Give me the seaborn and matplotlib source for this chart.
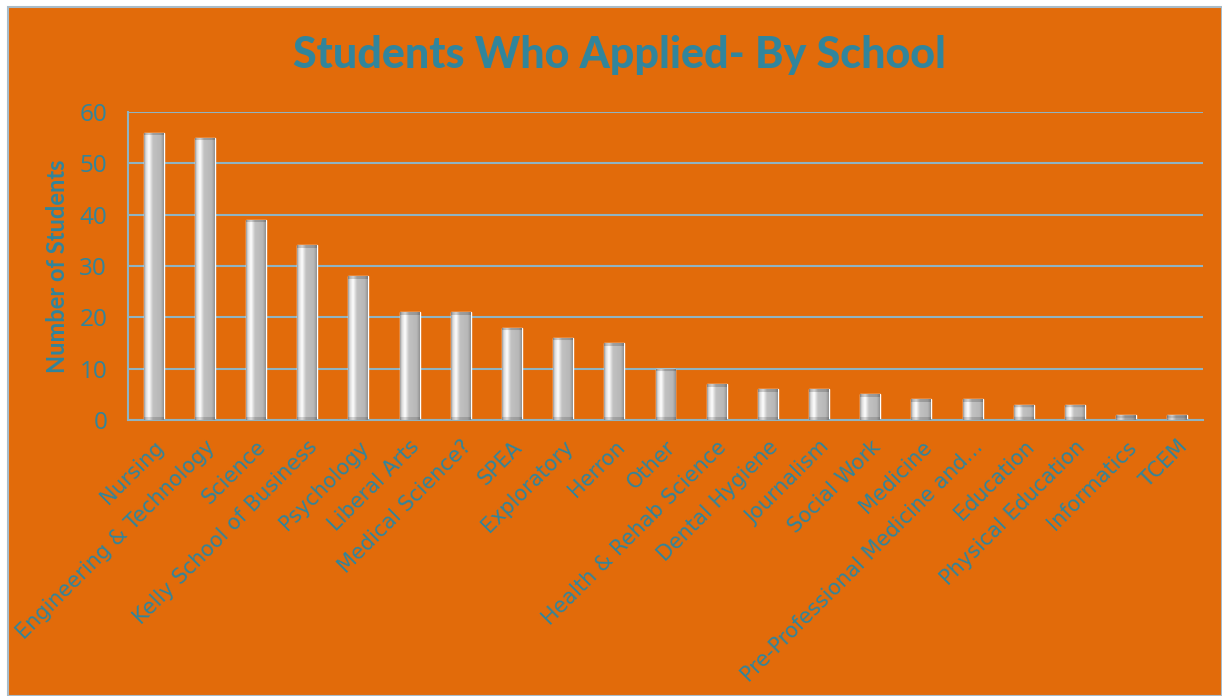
import numpy as np
import pandas as pd
import matplotlib
matplotlib.use("Agg")
import matplotlib.pyplot as plt
import seaborn as sns
from matplotlib.patches import Rectangle

# Applicants per school
schools = [
    "Nursing", "Engineering & Technology", "Science", "Kelly School of Business",
    "Psychology", "Liberal Arts", "Medical Science?", "SPEA", "Exploratory",
    "Herron", "Other", "Health & Rehab Science", "Dental Hygiene", "Journalism",
    "Social Work", "Medicine", "Pre-Professional Medicine and…", "Education",
    "Physical Education", "Informatics", "TCEM",
]
students = [56, 55, 39, 34, 28, 21, 21, 18, 16, 15, 10, 7, 6, 6, 5, 4, 4, 3, 3, 1, 1]
y_ticks = [0, 10, 20, 30, 40, 50, 60]

ORANGE = "#E26B0A"
TEAL = "#31859C"
GRID = "#8FB3C2"

sns.set_theme(style="white")
plt.rcParams["font.family"] = ["DejaVu Sans"]

W, H = 1222, 696
fig = plt.figure(figsize=(W / 100, H / 100), dpi=100, facecolor="white")
fig.patches.append(Rectangle((8 / W, 0), 1 - 8 / W, 689 / H, transform=fig.transFigure,
                             facecolor=ORANGE, edgecolor="#A9BCC8", lw=1.5, zorder=-5))

ax = fig.add_axes([128 / W, 1 - 420 / H, (1203 - 128) / W, (420 - 112) / H])
ax.set_facecolor("none")

df = pd.DataFrame({"School": schools, "Students": students})
sns.barplot(data=df, x="School", y="Students", color="#BDBDBD", saturation=1,
            width=0.39, ax=ax, zorder=2)

# Cylinder-like shading on each bar
stops = np.array([0.0, 0.08, 0.25, 0.45, 0.85, 1.0])
cols = np.array([[0.62, 0.62, 0.62], [0.85, 0.85, 0.85], [1.0, 1.0, 1.0],
                 [0.76, 0.76, 0.76], [0.72, 0.72, 0.72], [0.58, 0.58, 0.58]])
xs = np.linspace(0, 1, 40)
row = np.stack([np.interp(xs, stops, cols[:, k]) for k in range(3)], axis=-1)
px_per_unit = (420 - 112) / 60
for p in list(ax.patches):
    x0, y0, w, h = p.get_x(), p.get_y(), p.get_width(), p.get_height()
    n = max(int(round(h * px_per_unit)), 4)
    img = np.repeat(row[np.newaxis, :, :], n, axis=0)
    img[:3] *= 0.82
    img[-3:] *= 0.85
    im = ax.imshow(img, extent=[x0, x0 + w, y0, y0 + h], aspect="auto",
                   interpolation="bilinear", zorder=3)
    im.set_clip_path(p)

ax.set_xlim(-0.5, len(schools) - 0.5)
ax.set_ylim(0, 60)
ax.set_yticks(y_ticks)
ax.yaxis.grid(True, color=GRID, lw=1.5, zorder=0)
ax.set_axisbelow(True)
for s in ["top", "right"]:
    ax.spines[s].set_visible(False)
for s in ["left", "bottom"]:
    ax.spines[s].set_color(GRID)
    ax.spines[s].set_linewidth(1.5)
ax.tick_params(axis="both", length=0, colors=TEAL)
ax.tick_params(axis="y", labelsize=17.5, pad=15)
ax.tick_params(axis="x", labelsize=15, pad=12)
plt.setp(ax.get_xticklabels(), rotation=45, ha="right", rotation_mode="anchor")
plt.setp(ax.get_yticklabels(), family="Open Sans")
ax.set_xlabel("")
ax.set_ylabel("Number of Students", color=TEAL, fontsize=17, fontweight="bold",
              family="Lato")
ax.yaxis.set_label_coords(-0.055, 0.5)

fig.text(619 / W, 1 - 55 / H, "Students Who Applied- By School", color=TEAL,
         fontsize=31, fontweight="black", family="Lato", ha="center", va="center")

fig.savefig("out.png", dpi=100, facecolor="white")
